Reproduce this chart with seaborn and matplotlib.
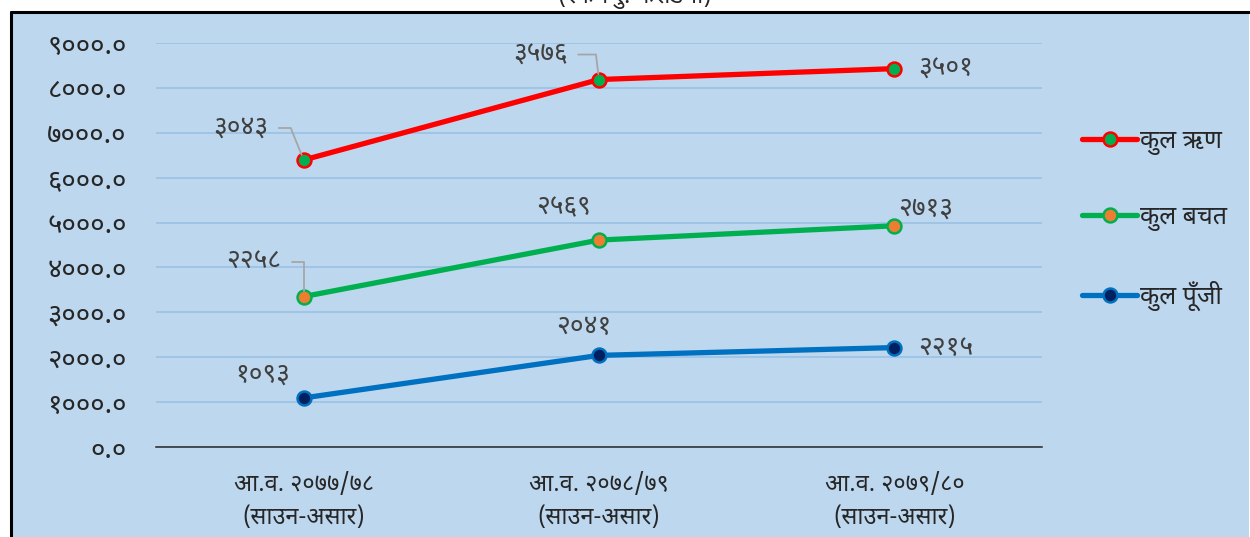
import numpy as np
import pandas as pd
import matplotlib
matplotlib.use("Agg")
import matplotlib.pyplot as plt
import seaborn as sns
from matplotlib import font_manager
from matplotlib.ft2font import FT2Font
from matplotlib.lines import Line2D

# ---------------- data ----------------
categories = ["आ.व. २०७७/७८\n(साउन-असार)",
              "आ.व. २०७८/७९\n(साउन-असार)",
              "आ.व. २०७९/८०\n(साउन-असार)"]
series_names = ["कुल ऋण", "कुल बचत", "कुल पूँजी"]
loan = [3043, 3576, 3501]
saving = [2258, 2569, 2713]
capital = [1093, 2041, 2215]
y_ticks = [0, 1000, 2000, 3000, 4000, 5000, 6000, 7000, 8000, 9000]
title_text = "(रकम रु. करोडमा)"

# ---------------- font ----------------
def find_devanagari():
    names = []
    for f in font_manager.fontManager.ttflist:
        try:
            cm = FT2Font(f.fname).get_charmap()
        except Exception:
            continue
        if 0x0915 in cm and 0x0966 in cm and 0x0941 in cm:
            names.append(f.name)
    prefs = ["Noto Sans Devanagari", "Lohit Devanagari", "Mukta", "Kalimati",
             "Mangal", "FreeSans", "Gargi", "Noto Serif Devanagari"]
    for p in prefs:
        if p in names:
            return p
    return names[0] if names else None

sns.set_theme(style="white")
deva = find_devanagari()
fam = [deva, "DejaVu Sans"] if deva else ["DejaVu Sans"]
plt.rcParams["font.family"] = fam

DEV = str.maketrans("0123456789", "०१२३४५६७८९")
def dev(s):
    return str(s).translate(DEV)

# ---------------- figure ----------------
W, H = 1250, 537
fig = plt.figure(figsize=(W / 100, H / 100), dpi=100, facecolor="white")

bg = "#BDD7EE"
fig.patches.append(plt.Rectangle((11 / W, -0.02), (1249 - 11) / W, (H - 12) / H + 0.02,
                                 transform=fig.transFigure, facecolor=bg,
                                 edgecolor="none", zorder=-5))
fig.add_artist(Line2D([11 / W, 11 / W], [-0.02, 1 - 12 / H], transform=fig.transFigure,
                      color="black", lw=2.2, zorder=-4))
fig.add_artist(Line2D([11 / W, 1249 / W], [1 - 12 / H, 1 - 12 / H], transform=fig.transFigure,
                      color="black", lw=2.2, zorder=-4))
fig.text(635 / W, 1 - 9 / H, title_text, ha="center", va="bottom", fontsize=17, color="#262626")

ax_l, ax_r, ax_t, ax_b = 156, 1042, 43, 447
ax = fig.add_axes([ax_l / W, 1 - ax_b / H, (ax_r - ax_l) / W, (ax_b - ax_t) / H])
ax.set_zorder(2)
ax.patch.set_alpha(0)

# stacked values
s_cap = np.array(capital)
s_sav = s_cap + np.array(saving)
s_loan = s_sav + np.array(loan)
x = np.arange(len(categories))

styles = [
    (series_names[0], s_loan, loan, "#FF0000", "#00B050"),
    (series_names[1], s_sav, saving, "#00B050", "#ED7D31"),
    (series_names[2], s_cap, capital, "#0070C0", "#002060"),
]
for name, ys, _, lc, mc in styles:
    df = pd.DataFrame({"x": x, "y": ys})
    sns.lineplot(data=df, x="x", y="y", ax=ax, color=lc, lw=3.8, marker="o",
                 markersize=10, markerfacecolor=mc, markeredgecolor=lc,
                 markeredgewidth=1.8, zorder=3, label=name)

ax.set_xlim(-0.5, 2.5)
ax.set_ylim(0, 9000)
ax.set_yticks(y_ticks)
ax.set_yticklabels([dev(f"{v:.1f}") for v in y_ticks])
ax.set_xticks(x)
ax.set_xticklabels(categories, linespacing=1.5)
ax.set_xlabel("")
ax.set_ylabel("")
ax.grid(axis="y", color="#9DC3E6", lw=1.3)
ax.grid(axis="x", visible=False)
ax.set_axisbelow(True)
for s in ["top", "right", "left"]:
    ax.spines[s].set_visible(False)
ax.spines["bottom"].set_color("#262626")
ax.spines["bottom"].set_linewidth(1.1)
ax.tick_params(axis="y", length=0, pad=21, labelsize=20, labelcolor="#262626")
ax.tick_params(axis="x", length=0, pad=19, labelsize=17, labelcolor="#262626")

# data labels (offsets in pixels -> points)
px = 0.72
label_pos = {
    (0, 0): (-35, 32, "right", True, 112),
    (0, 1): (-31, 25, "right", True, 97),
    (0, 2): (24, 0, "left", False, None),
    (1, 0): (-22, 35, "right", True, 90),
    (1, 1): (-35, 33, "center", False, None),
    (1, 2): (31, 17, "center", False, None),
    (2, 0): (-41, 23, "center", False, None),
    (2, 1): (-15, 28, "center", False, None),
    (2, 2): (24, 0, "left", False, None),
}
for si, (name, ys, vals, lc, mc) in enumerate(styles):
    for i in range(len(x)):
        dx, dy, ha, leader, angB = label_pos[(si, i)]
        kw = {}
        if leader:
            kw["arrowprops"] = dict(arrowstyle="-", color="#A6A6A6", lw=1.3,
                                    shrinkA=5, shrinkB=4, relpos=(1, 0.5),
                                    connectionstyle=f"angle,angleA=0,angleB={angB},rad=0")
        ax.annotate(dev(vals[i]), xy=(x[i], ys[i]), xytext=(dx * px, dy * px),
                    textcoords="offset points", ha=ha, va="center",
                    fontsize=19, color="#404040", fontweight="bold", zorder=5, **kw)

leg = ax.legend(loc="upper left", bbox_to_anchor=(1072 / W, 1 - 119 / H),
                bbox_transform=fig.transFigure, frameon=False, fontsize=18,
                handlelength=2.2, handletextpad=0.1, labelspacing=2.0,
                borderaxespad=0, labelcolor="#262626")

fig.savefig("out.png", dpi=100, facecolor="white")
